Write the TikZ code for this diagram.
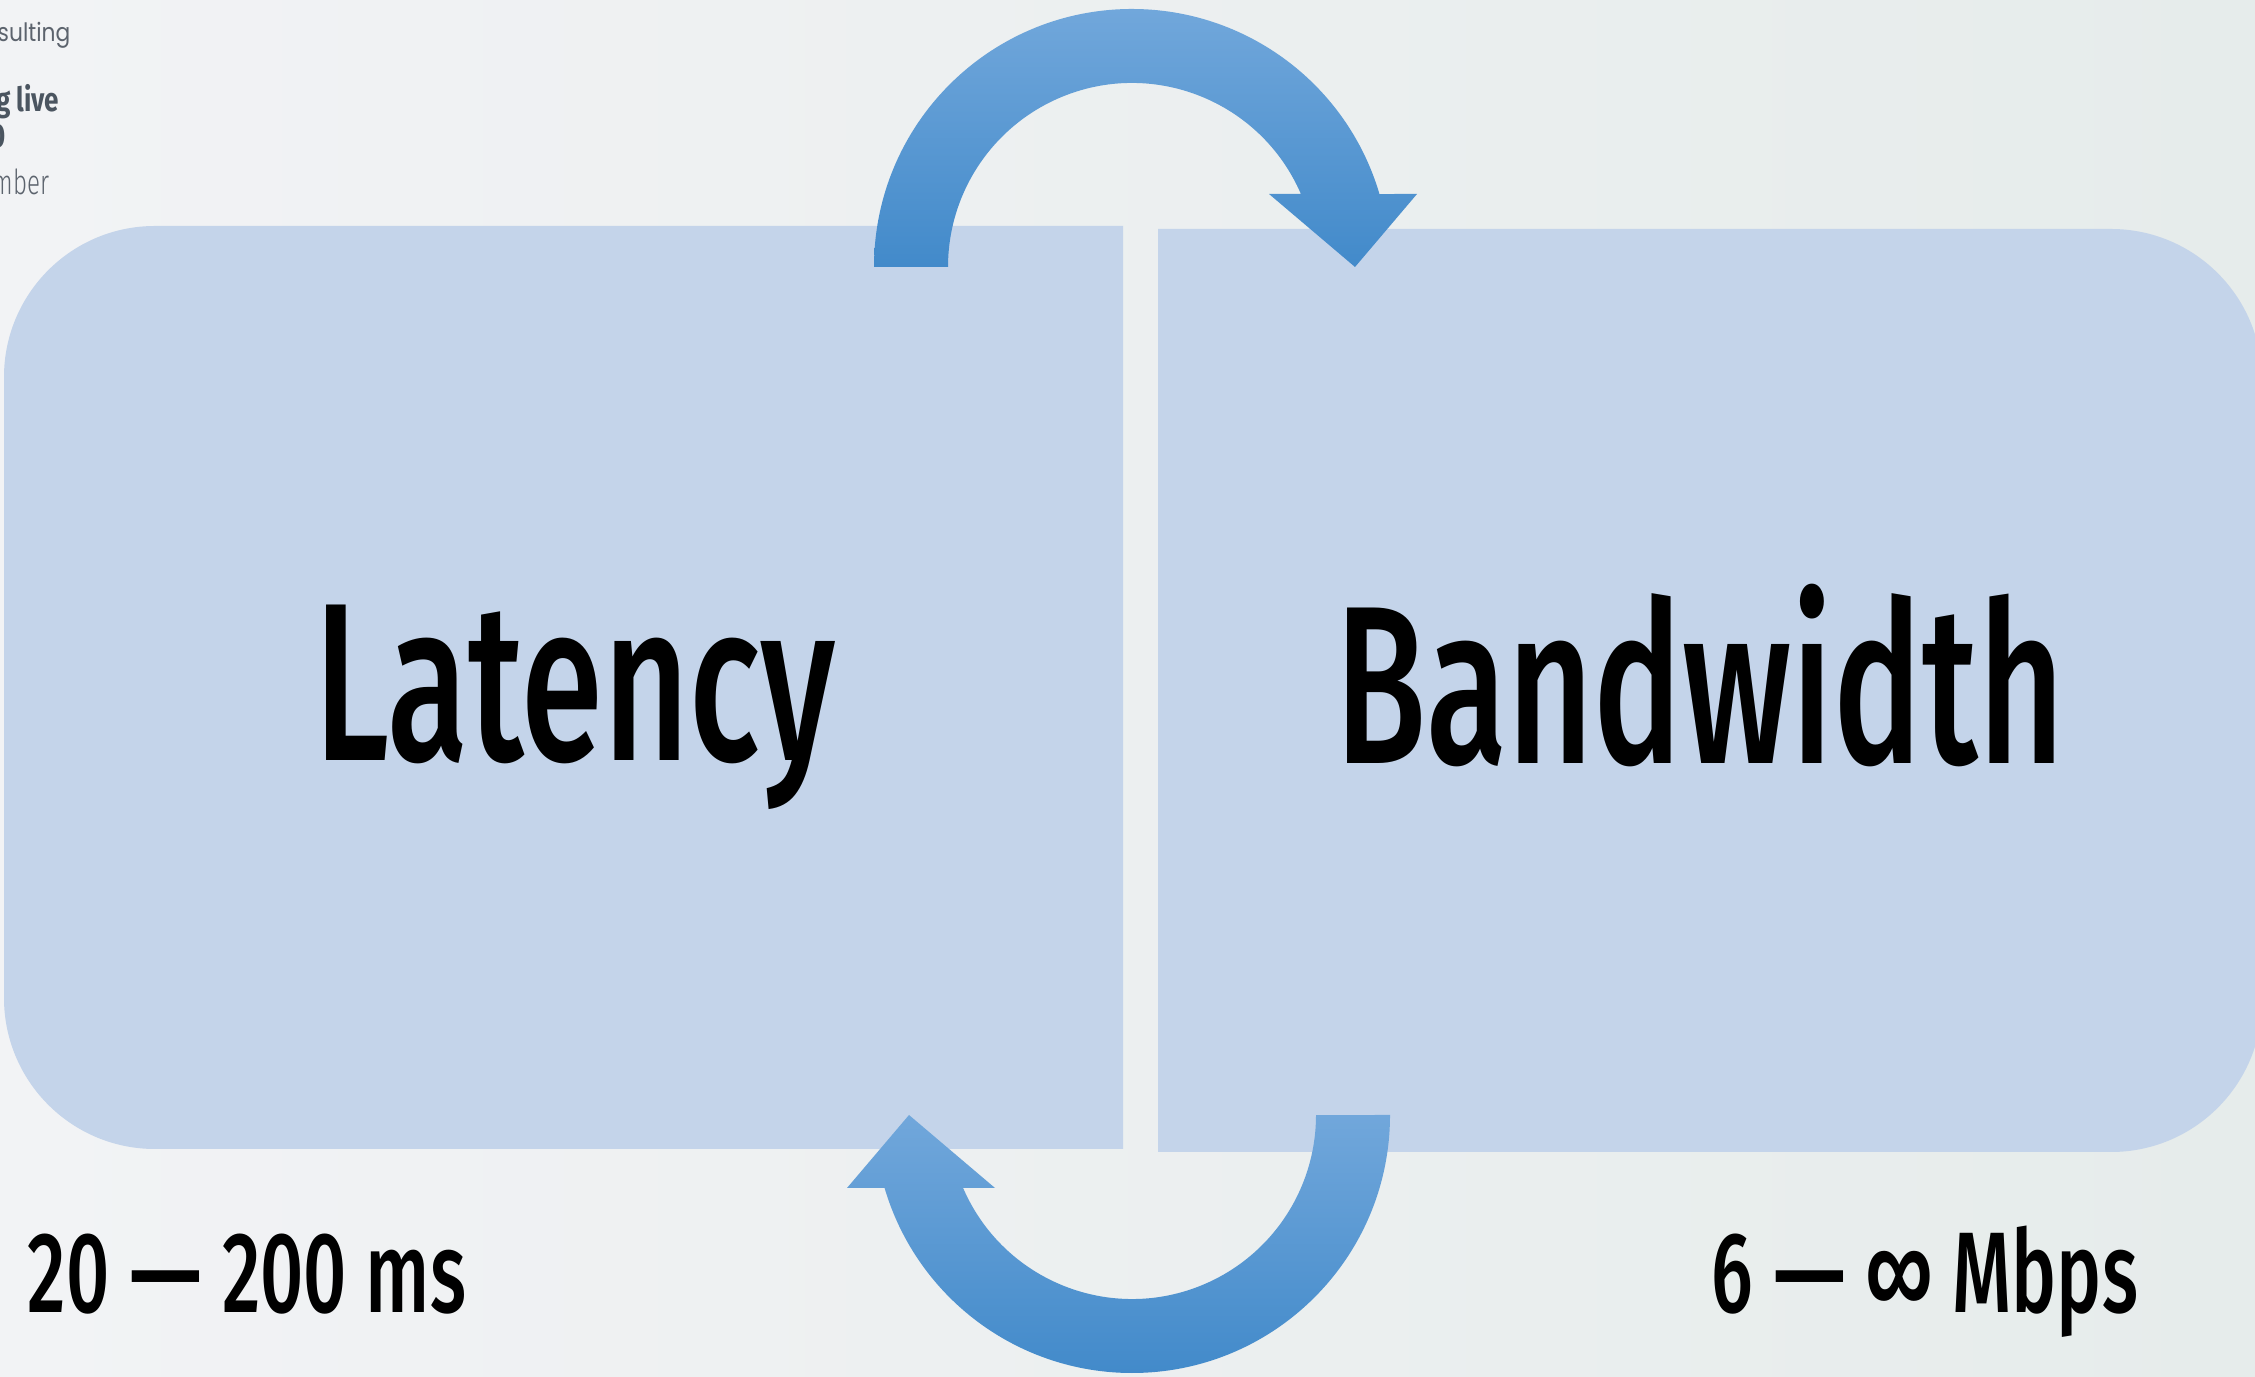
\documentclass[tikz,border=0pt]{standalone}
\usepackage{fontspec}
\newfontfamily\narrowfont[FakeStretch=0.66, Ligatures=TeX]{Fira Sans Medium}
\newfontfamily\narrowbold[FakeStretch=0.78]{Fira Sans Bold}
\newfontfamily\narrowthin[FakeStretch=0.7]{Fira Sans Light}
\newfontfamily\roundfont[FakeStretch=0.86]{Poppins}
% a longer dash for the ranges
\newcommand{\rangedash}{\scalebox{1.9}[1]{--}}

\definecolor{bgleft}{HTML}{F2F3F5}
\definecolor{bgright}{HTML}{E6ECEB}
\definecolor{panelblue}{HTML}{C4D4EA}
\definecolor{arrowtop}{HTML}{71A7DB}
\definecolor{arrowmid}{HTML}{5A9CDB}
\definecolor{arrowbot}{HTML}{428ACA}
\definecolor{headgray}{HTML}{4B5560}
\definecolor{subgray}{HTML}{5C636D}

\begin{document}
\begin{tikzpicture}[
        x=0.01cm, y=0.01cm,
        panel/.style={fill=panelblue},
        loop arrow/.style={top color=arrowtop, middle color=arrowmid, bottom color=arrowbot},
        big label/.style={inner sep=0pt, font=\narrowfont\fontsize{64}{70}\selectfont},
        range label/.style={inner sep=0pt, font=\narrowfont\fontsize{32.6}{36}\selectfont},
        corner light/.style={inner sep=0pt, text=subgray, font=\roundfont\fontsize{7.2}{8}\selectfont},
        corner bold/.style={inner sep=0pt, text=headgray, font=\narrowbold\fontsize{9.5}{10}\selectfont},
        corner thin/.style={inner sep=0pt, text=subgray, font=\narrowthin\fontsize{9.8}{10}\selectfont}
    ]
        \useasboundingbox (0,0) rectangle (2255,1376);
        \clip (0,0) rectangle (2255,1376);
        \shade[left color=bgleft, right color=bgright] (0,0) rectangle (2255,1376);

        % the two panels, rounded on the outer side only
        \fill[panel] (1123,1150) -- (155,1150) arc[start angle=90, end angle=180, radius=151]
            -- (4,378) arc[start angle=180, end angle=270, radius=151] -- (1123,227) -- cycle;
        \fill[panel] (1158,1147) -- (2111,1147) arc[start angle=90, end angle=0, radius=151]
            -- (2262,375) arc[start angle=0, end angle=-90, radius=151] -- (1158,224) -- cycle;

        % curved arrows between the panels
        \path[loop arrow] (874,1109) arc[start angle=180, end angle=16.43, radius=258]
            -- (1417,1182) -- (1355,1109) -- (1269,1182) -- (1300.9,1182)
            arc[start angle=23.37, end angle=180, radius=184] -- cycle;
        \path[loop arrow] (1390,261) arc[start angle=0, end angle=-163.57, radius=258]
            -- (847,188) -- (909,261) -- (995,188) -- (963.1,188)
            arc[start angle=-156.63, end angle=0, radius=184] -- cycle;

        \node[big label, anchor=base] (latency) at (575,615) {Latency};
        \node[big label, anchor=base] (bandwidth) at (1700,612) {Bandwidth};
        \node[range label, anchor=base west] (latrange) at (27,64) {20 \rangedash{} 200 ms};
        \node[range label, anchor=base west] (bwrange) at (1711,64) {6 \rangedash{} ∞ Mbps};

        % header text running off the left edge
        \node[corner light, anchor=base east] (brand) at (71,1334) {sulting};
        \node[corner bold, anchor=base east] (title) at (60,1264) {g live};
        \node[corner bold, anchor=base east] (titlesecond) at (6,1228) {0};
        \node[corner thin, anchor=base east] (date) at (50,1181) {mber};
    \end{tikzpicture}
\end{document}
